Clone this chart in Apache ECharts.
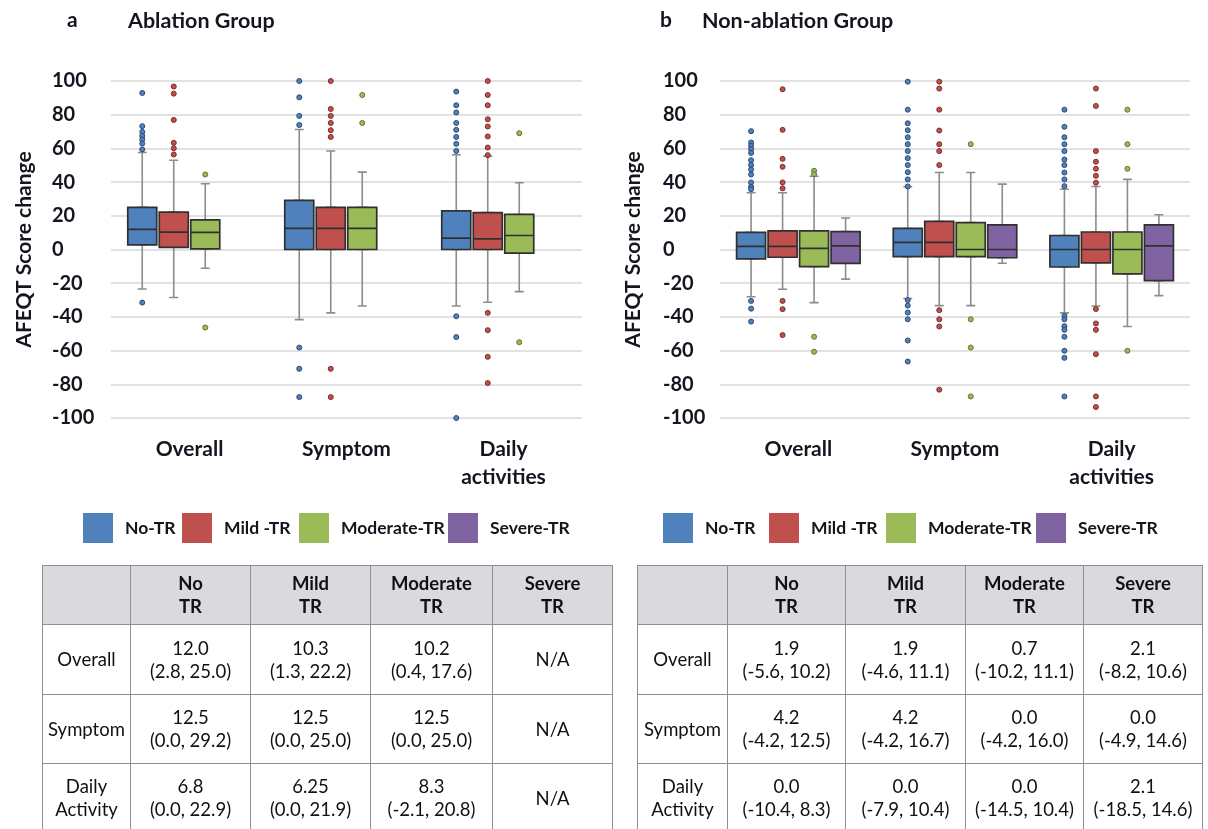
<!DOCTYPE html>
<html>
<head>
<meta charset="utf-8">
<script src="https://cdn.jsdelivr.net/npm/echarts@6/dist/echarts.min.js"></script>
<style>
  html, body { margin: 0; padding: 0; background: #fff; }
  #wrap { position: relative; width: 1208px; height: 829px; overflow: hidden; }
  #chart { position: absolute; left: 0; top: 0; width: 1400px; height: 829px; }
  table.stat { position: absolute; border-collapse: collapse; font-family: Lato, "Noto Sans", sans-serif; font-size: 18.5px; color: #111; table-layout: fixed; }
  table.stat td, table.stat th { border: 1.5px solid #8f8f8f; text-align: center; vertical-align: middle; padding: 0; line-height: 23px; white-space: pre-line; }
  table.stat th { background: #d9d9de; font-weight: bold; }
</style>
</head>
<body>
<div id="wrap">
  <div id="chart"></div>
</div>
<script>
// ---------------- data ----------------
const categories = ['Overall', 'Symptom', 'Daily\nactivities'];
const severities = ['No-TR', 'Mild -TR', 'Moderate-TR', 'Severe-TR'];
const colors = ['#4f81bd', '#c0504d', '#9bbb59', '#8064a2'];
const outlierBorders = ['#2c4a73', '#7a2d2b', '#5b7530', '#4b3a63'];
const yTicks = [-100, 100, 20];

// [min, Q1, median, Q3, max] per category (Overall, Symptom, Daily activities)
const ablationNoTR = [[-23.4, 2.8, 12.0, 25.0, 57.6], [-41.6, 0.0, 12.5, 29.2, 71.2], [-33.5, 0.0, 6.8, 22.9, 56.2]];
const ablationMildTR = [[-28.5, 1.3, 10.3, 22.2, 53.0], [-37.6, 0.0, 12.5, 25.0, 58.5], [-31.3, 0.0, 6.25, 21.9, 55.4]];
const ablationModerateTR = [[-11.1, 0.4, 10.2, 17.6, 39.0], [-33.5, 0.0, 12.5, 25.0, 45.9], [-25.0, -2.1, 8.3, 20.8, 39.6]];

const nonAblationNoTR = [[-28.0, -5.6, 1.9, 10.2, 33.7], [-29.1, -4.2, 4.2, 12.5, 37.2], [-37.6, -10.4, 0.0, 8.3, 35.8]];
const nonAblationMildTR = [[-23.6, -4.6, 1.9, 11.1, 33.7], [-33.3, -4.2, 4.2, 16.7, 45.7], [-33.5, -7.9, 0.0, 10.4, 37.4]];
const nonAblationModerateTR = [[-31.5, -10.2, 0.7, 11.1, 43.5], [-33.3, -4.2, 0.0, 16.0, 45.7], [-45.7, -14.5, 0.0, 10.4, 41.6]];
const nonAblationSevereTR = [[-17.6, -8.2, 2.1, 10.6, 18.7], [-8.2, -4.9, 0.0, 14.6, 38.8], [-27.4, -18.5, 2.1, 14.6, 20.6]];

// outliers per category
const ablationNoTROut = [
  [92.9, 73.2, 69.8, 67.4, 65.3, 62.9, 59.4, -31.5],
  [100, 90.3, 79.3, 73.9, -58.2, -70.8, -87.6],
  [93.7, 85.6, 81.3, 75.1, 71.0, 66.8, 62.7, 58.5, -39.6, -52.0, -100]
];
const ablationMildTROut = [
  [96.7, 92.5, 76.9, 63.3, 60.1, 56.4],
  [100, 83.4, 79.3, 75.1, 70.8, 66.8, -70.8, -87.6],
  [100, 91.7, 85.6, 77.3, 73.0, 67.1, 60.5, 56.0, -37.6, -47.9, -63.7, -79.3]
];
const ablationModerateTROut = [
  [44.5, -46.3],
  [91.7, 75.1],
  [69.0, -55.0]
];
const nonAblationNoTROut = [
  [70.2, 63.5, 61.5, 59.5, 57.3, 53.0, 50.2, 47.5, 44.5, 39.8, 37.2, 35.8, -30.5, -35.1, -42.8],
  [99.6, 83.0, 74.9, 70.8, 66.6, 62.5, 58.4, 54.2, 50.1, 45.9, 41.6, 37.4, -30.0, -33.3, -37.4, -41.4, -54.0, -66.5],
  [83.0, 72.8, 66.6, 62.5, 58.4, 53.4, 50.1, 45.7, 41.6, 37.6, -39.4, -41.4, -45.5, -47.7, -51.8, -60.1, -64.3, -87.2]
];
const nonAblationMildTROut = [
  [95.1, 71.0, 53.8, 49.1, 39.8, 36.3, -30.5, -35.4, -50.8],
  [99.6, 95.5, 83.0, 70.6, 62.5, 58.4, 50.1, -36.0, -41.4, -45.7, -83.2],
  [95.5, 85.2, 58.4, 52.1, 47.9, 43.7, 39.6, -35.3, -43.9, -47.7, -62.1, -87.2, -93.5]
];
const nonAblationModerateTROut = [
  [46.7, 44.7, -51.8, -60.7],
  [62.5, -41.4, -58.2, -87.2],
  [83.0, 62.5, 47.9, -60.1]
];
const nonAblationSevereTROut = [[], [], []];

// table data
const tableHeaders = ['No\nTR', 'Mild\nTR', 'Moderate\nTR', 'Severe\nTR'];
const tableRowLabels = ['Overall', 'Symptom', 'Daily\nActivity'];
const ablationTable = [
  ['12.0\n(2.8, 25.0)', '10.3\n(1.3, 22.2)', '10.2\n(0.4, 17.6)', 'N/A'],
  ['12.5\n(0.0, 29.2)', '12.5\n(0.0, 25.0)', '12.5\n(0.0, 25.0)', 'N/A'],
  ['6.8\n(0.0, 22.9)', '6.25\n(0.0, 21.9)', '8.3\n(-2.1, 20.8)', 'N/A']
];
const nonAblationTable = [
  ['1.9\n(-5.6, 10.2)', '1.9\n(-4.6, 11.1)', '0.7\n(-10.2, 11.1)', '2.1\n(-8.2, 10.6)'],
  ['4.2\n(-4.2, 12.5)', '4.2\n(-4.2, 16.7)', '0.0\n(-4.2, 16.0)', '0.0\n(-4.9, 14.6)'],
  ['0.0\n(-10.4, 8.3)', '0.0\n(-7.9, 10.4)', '0.0\n(-14.5, 10.4)', '2.1\n(-18.5, 14.6)']
];

// ---------------- layout ----------------
const FONT = 'Lato, "Noto Sans", sans-serif';
const TXT = '#15151f';
const GRID_TOP = 81, GRID_H = 337, STEP = 31.5;

const panels = [
  { letter: 'a', title: 'Ablation Group', letterX: 62, titleX: 123, left: 111, width: 471, labelMargin: 59,
    stats: [ablationNoTR, ablationMildTR, ablationModerateTR, null],
    outs: [ablationNoTROut, ablationMildTROut, ablationModerateTROut, null],
    legendX: [83, 182, 299, 448] },
  { letter: 'b', title: 'Non-ablation Group', letterX: 655, titleX: 697, left: 720, width: 470, labelMargin: 57,
    stats: [nonAblationNoTR, nonAblationMildTR, nonAblationModerateTR, nonAblationSevereTR],
    outs: [nonAblationNoTROut, nonAblationMildTROut, nonAblationModerateTROut, nonAblationSevereTROut],
    legendX: [663, 769, 886, 1036] }
];

const grids = [], xAxes = [], yAxes = [], series = [], titles = [], legends = [];

panels.forEach(function (p) {
  titles.push({ text: p.letter, left: p.letterX, top: 5, textStyle: { fontFamily: FONT, fontSize: 21, fontWeight: 'bold', color: TXT } });
  titles.push({ text: p.title, left: p.titleX, top: 5, textStyle: { fontFamily: FONT, fontSize: 21.5, fontWeight: 'bold', color: TXT } });

  const gMain = grids.length;
  grids.push({ left: p.left, top: GRID_TOP, width: p.width, height: GRID_H });
  xAxes.push({
    type: 'category', gridIndex: gMain, data: categories,
    axisLine: { show: false }, axisTick: { show: false },
    axisLabel: { fontFamily: FONT, fontSize: 21, fontWeight: 'bold', color: TXT, margin: 17, lineHeight: 28 }
  });
  yAxes.push({
    type: 'value', gridIndex: gMain, min: yTicks[0], max: yTicks[1], interval: yTicks[2],
    name: 'AFEQT Score change', nameLocation: 'middle', nameGap: 76, nameRotate: 90,
    nameTextStyle: { fontFamily: FONT, fontSize: 21, fontWeight: 'bold', color: TXT },
    axisLine: { show: false }, axisTick: { show: false },
    axisLabel: { fontFamily: FONT, fontSize: 20, fontWeight: 'bold', color: TXT, align: 'left', margin: p.labelMargin },
    splitLine: { lineStyle: { color: '#e2e2e2', width: 2 } }
  });

  severities.forEach(function (sev, k) {
    legends.push({
      left: p.legendX[k], top: 513, orient: 'horizontal', padding: 0,
      itemWidth: 30, itemHeight: 30, icon: 'rect', selectedMode: false,
      itemStyle: { color: colors[k], borderWidth: 0 },
      textStyle: { fontFamily: FONT, fontSize: 17.5, fontWeight: 'bold', color: TXT, padding: [0, 0, 0, 7] },
      data: [sev]
    });

    const st = p.stats[k];
    if (!st) return;
    const g = grids.length;
    grids.push({ left: p.left + (k - 1.5) * STEP, top: GRID_TOP, width: p.width, height: GRID_H });
    const xw = xAxes.length;
    xAxes.push({ type: 'category', gridIndex: g, data: categories, show: false });
    xAxes.push({ type: 'category', gridIndex: g, data: categories, show: false, position: 'top' });
    const yi = yAxes.length;
    yAxes.push({ type: 'value', gridIndex: g, min: yTicks[0], max: yTicks[1], interval: yTicks[2], show: false });

    // whiskers layer (grey)
    series.push({
      type: 'boxplot', name: sev + ' whisker', xAxisIndex: xw, yAxisIndex: yi, z: 2,
      boxWidth: [9, 9], silent: true,
      itemStyle: { color: '#8c8c8c', borderColor: '#8c8c8c', borderWidth: 1.6 },
      data: st
    });
    // box layer
    series.push({
      type: 'boxplot', name: sev, xAxisIndex: xw + 1, yAxisIndex: yi, z: 3,
      boxWidth: [29, 29], silent: true,
      itemStyle: { color: colors[k], borderColor: '#303030', borderWidth: 1.7 },
      data: st.map(function (d) { return [d[1], d[1], d[2], d[3], d[3]]; })
    });
    // outliers
    const pts = [];
    p.outs[k].forEach(function (arr, ci) { arr.forEach(function (v) { pts.push([ci, v]); }); });
    series.push({
      type: 'scatter', name: sev + ' outlier', xAxisIndex: xw, yAxisIndex: yi, z: 4, silent: true,
      symbol: 'circle', symbolSize: 5,
      itemStyle: { color: colors[k], borderColor: outlierBorders[k], borderWidth: 1, opacity: 1 },
      data: pts
    });
  });
});

const chart = echarts.init(document.getElementById('chart'), null, { renderer: 'canvas' });
chart.setOption({
  animation: false,
  backgroundColor: '#ffffff',
  title: titles,
  legend: legends,
  grid: grids,
  xAxis: xAxes,
  yAxis: yAxes,
  series: series
});

// ---------------- tables ----------------
function buildTable(rows, left, colWidths) {
  const t = document.createElement('table');
  t.className = 'stat';
  t.style.left = left + 'px';
  t.style.top = '565px';
  const total = colWidths.reduce(function (a, b) { return a + b; }, 0);
  t.style.width = total + 'px';
  const cg = document.createElement('colgroup');
  colWidths.forEach(function (w) { const c = document.createElement('col'); c.style.width = w + 'px'; cg.appendChild(c); });
  t.appendChild(cg);
  const hr = document.createElement('tr');
  hr.style.height = '59px';
  const h0 = document.createElement('th'); h0.textContent = ''; hr.appendChild(h0);
  tableHeaders.forEach(function (h) { const th = document.createElement('th'); th.textContent = h; hr.appendChild(th); });
  t.appendChild(hr);
  const heights = [70, 69, 69];
  rows.forEach(function (r, ri) {
    const tr = document.createElement('tr');
    tr.style.height = heights[ri] + 'px';
    const l = document.createElement('td'); l.textContent = tableRowLabels[ri]; tr.appendChild(l);
    r.forEach(function (c) { const td = document.createElement('td'); td.textContent = c; tr.appendChild(td); });
    t.appendChild(tr);
  });
  document.getElementById('wrap').appendChild(t);
}
buildTable(ablationTable, 42, [88, 120, 120, 122, 120]);
buildTable(nonAblationTable, 637, [90, 118, 120, 118, 119]);
</script>
</body>
</html>
